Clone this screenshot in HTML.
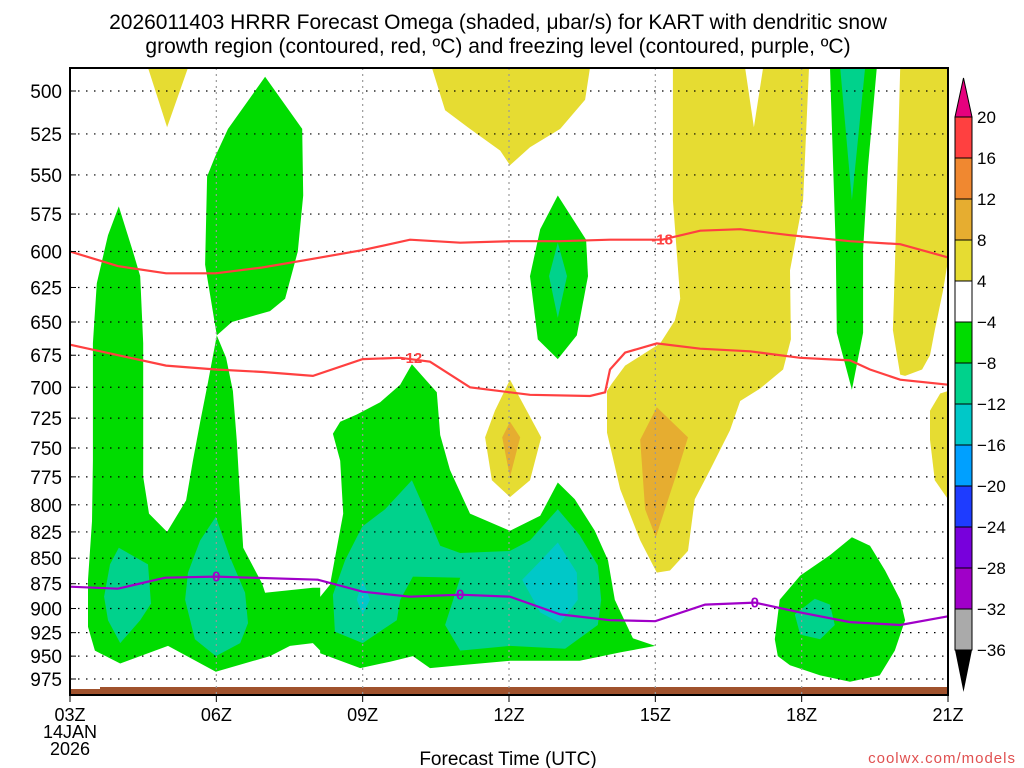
<!DOCTYPE html>
<html><head><meta charset="utf-8">
<style>
html,body{margin:0;padding:0;background:#fff;}
svg{display:block;font-family:"Liberation Sans",sans-serif;}
</style></head>
<body>
<svg id="chart" width="1024" height="768" viewBox="0 0 1024 768" xmlns="http://www.w3.org/2000/svg">
<text x="498" y="29" text-anchor="middle" font-size="21" fill="#000">2026011403 HRRR Forecast Omega (shaded, μbar/s) for KART with dendritic snow</text>
<text x="498" y="53" text-anchor="middle" font-size="21" fill="#000">growth region (contoured, red, ºC) and freezing level (contoured, purple, ºC)</text>
<g id="fills"></g>
<g id="grid"></g>
<g id="lines"></g>
<g id="axes"></g>
<g id="cbar"></g>
<text x="508" y="765" text-anchor="middle" font-size="19" fill="#000">Forecast Time (UTC)</text>
<text x="1016" y="763" text-anchor="end" font-size="15" fill="#e05050" letter-spacing="1">coolwx.com/models</text>
</svg>
<script>
const NS="http://www.w3.org/2000/svg";
const xTicks=[3,6,9,12,15,18,21];
const xTickLabels=["03Z","06Z","09Z","12Z","15Z","18Z","21Z"];
const pTicks=[500,525,550,575,600,625,650,675,700,725,750,775,800,825,850,875,900,925,950,975];
const cbarLabels=["20","16","12","8","4","-4","-8","-12","-16","-20","-24","-28","-32","-36"];
const cbarColors=["#ff4040","#f08830","#e6ad30","#e6dc32","#ffffff","#00dc00","#00d28c","#00c8c8","#00a0ff","#1e3cff","#7800dc","#a000c8","#aaaaaa"];
// shaded regions: [hour, hPa]
const yellowTopLeft=[[4.6,487],[5.42,487],[4.99,521]];
const yellowTopMid=[[10.42,487],[13.66,487],[13.56,505],[13.05,522],[12.43,533],[12.02,544],[11.82,535],[11.2,522],[10.69,511]];
const yellowBig=[[15.36,487],[18.15,487],[18.03,566],[17.76,613],[17.78,663],[17.62,686],[17.15,701],[16.74,711],[16.53,735],[16.12,769],[15.81,795],[15.67,843],[15.3,862],[15.03,864],[14.69,833],[14.28,786],[14.01,737],[14.01,703],[14.11,697],[14.38,683],[15.1,666],[15.4,649],[15.51,633],[15.36,566]];
const whiteNotch=[[16.84,487],[17.21,487],[17.02,521]];
const orangeBig=[[15.03,716],[15.67,741],[15.46,769],[15.01,830],[14.79,804],[14.69,743]];
const yellowMid=[[12.02,694],[12.66,741],[12.43,778],[12.02,793],[11.65,778],[11.51,741],[11.71,719]];
const orangeMid=[[12.02,728],[12.23,741],[12.02,775],[11.86,741]];
const yellowRightTop=[[20.02,487],[21,487],[21,606],[20.9,627],[20.73,656],[20.63,675],[20.47,686],[20.12,691],[20.02,690],[19.87,656],[19.91,613]];
const yellowRightLow=[[21,703],[20.84,705],[20.63,719],[20.63,743],[20.73,778],[21,795]];
const greenSpike=[[18.58,487],[19.54,487],[19.36,545],[19.26,599],[19.26,658],[19.03,702],[18.72,658],[18.7,599]];
const tealSpike=[[18.79,487],[19.3,487],[19.03,566]];
const green13=[[13.0,563],[13.58,592],[13.62,617],[13.39,660],[13.0,678],[12.59,663],[12.43,617],[12.64,585]];
const teal13=[[13.0,594],[13.19,617],[13.0,647],[12.82,617]];
const greenUpper06=[[7.0,492],[7.76,522],[7.78,563],[7.67,600],[7.41,633],[7.1,642],[6.32,650],[6.01,660],[5.77,609],[5.81,551],[5.97,539],[6.24,522]];
const greenLowLeft=[[4.0,570],[4.29,600],[4.44,617],[4.5,666],[4.5,775],[4.62,808],[4.99,825],[5.38,796],[5.52,761],[5.67,728],[5.83,696],[6.01,660],[6.2,677],[6.34,703],[6.42,744],[6.49,796],[6.55,840],[6.94,875],[7.0,884],[7.98,879],[8.13,879],[8.13,944],[7.98,936],[7.51,939],[7.1,950],[5.99,967],[5.01,939],[4.03,958],[3.51,944],[3.37,919],[3.37,871],[3.45,815],[3.47,761],[3.47,666],[3.55,622],[3.78,589]];
const greenMid=[[10.01,682],[10.52,704],[10.59,739],[10.79,769],[11.2,808],[12.02,824],[12.64,810],[13.0,780],[13.35,795],[13.76,824],[14.03,852],[14.17,891],[14.54,931],[15.0,939],[14.28,946],[13.45,955],[12.02,955],[11.0,960],[10.38,963],[10.03,950],[9.56,956],[8.95,963],[8.13,947],[8.08,891],[8.33,876],[8.6,808],[8.54,761],[8.39,738],[8.54,728],[8.88,722],[9.36,712],[9.77,698]];
const teal04=[[4.0,840],[4.6,856],[4.66,895],[4.44,912],[4.03,936],[3.78,912],[3.7,888],[3.82,856]];
const teal06=[[5.99,811],[6.28,849],[6.59,884],[6.65,915],[6.49,936],[5.99,950],[5.56,932],[5.36,891],[5.42,864],[5.67,833]];
const tealMid=[[10.01,778],[10.38,815],[10.59,838],[11.0,845],[12.02,843],[12.43,833],[13.0,804],[13.45,828],[13.82,857],[13.89,891],[13.82,917],[13.15,942],[12.02,939],[11.0,944],[10.69,917],[11.0,869],[10.03,868],[9.77,891],[9.7,912],[9.0,936],[8.43,924],[8.39,886],[8.64,852],[8.99,820],[9.46,804]];
const cyan12=[[13.0,835],[13.39,864],[13.41,891],[13.05,915],[12.64,904],[12.27,871],[12.64,853]];
const cyan09=[[9.0,871],[9.15,891],[9.0,906],[8.88,891]];
const greenRight=[[17.45,932],[17.55,891],[17.97,867],[18.58,847],[19.03,830],[19.4,838],[19.71,862],[20.02,891],[20.12,912],[19.91,944],[19.6,971],[18.99,978],[18.38,971],[17.76,960],[17.51,950]];
const tealRight=[[17.86,906],[18.27,890],[18.58,896],[18.68,917],[18.38,932],[17.97,927]];
// contour lines
const line0Hours=[3,3.98,4.95,5.99,8.08,9.0,9.97,11.0,12.02,13.05,14.07,15.0,16.02,17.04,17.97,18.99,20.02,21];
const line0P=[878,880,869,868,871,883,888,886,888,906,912,913,896,894,904,914,917,908];
const lineM12Hours=[3,4.97,5.99,6.96,7.98,9.0,9.77,10.38,11.2,12.43,13.66,13.97,14.07,14.38,15.03,15.92,16.94,17.97,18.99,19.4,20.02,21];
const lineM12P=[667,683,686,688,691,678,677,680,700,706,707,704,686,673,666,670,672,677,679,686,694,698];
const lineM18Hours=[3,3.98,4.97,5.99,6.94,7.98,9,9.97,11,12.02,13.05,14.07,15.14,15.92,16.74,17.76,18.99,20.02,21];
const lineM18P=[600,610,615,615,611,605,599,592,594,593,593,592,592,586,585,589,593,595,604];

const X0=70,X1=948,Y0=68,Y1=695;
const xs=h=>X0+(h-3)*(X1-X0)/18;
const ys=p=>91+Math.log(p/500)*(679-91)/Math.log(975/500);
const fills=document.getElementById('fills');
function poly(pts,color,name){
  const e=document.createElementNS(NS,'polygon');
  e.setAttribute('points',pts.map(q=>xs(q[0]).toFixed(1)+','+ys(q[1]).toFixed(1)).join(' '));
  e.setAttribute('fill',color);
  
  
  fills.appendChild(e);
}
const Y="#e6dc32",O="#e6ad30",G="#00dc00",T="#00d28c",C="#00c8c8";
poly(yellowTopLeft,Y,'yellow-region');poly(yellowTopMid,Y,'yellow-region');poly(yellowBig,Y,'yellow-region');
poly(whiteNotch,"#fff",'white-notch');poly(orangeBig,O,'orange-region');
poly(yellowMid,Y,'yellow-region');poly(orangeMid,O,'orange-region');
poly(yellowRightTop,Y,'yellow-region');poly(yellowRightLow,Y,'yellow-region');
poly(greenSpike,G,'green-region');poly(tealSpike,T,'teal-region');
poly(green13,G,'green-region');poly(teal13,T,'teal-region');
poly(greenUpper06,G,'green-region');poly(greenLowLeft,G,'green-region');poly(greenMid,G,'green-region');
poly(teal04,T,'teal-region');poly(teal06,T,'teal-region');poly(tealMid,T,'teal-region');
poly(cyan12,C,'cyan-region');poly(cyan09,C,'cyan-region');
poly(greenRight,G,'green-region');poly(tealRight,T,'teal-region');
// terrain
const terr=document.createElementNS(NS,'path');
terr.setAttribute('d',`M${X0},689 L100,689 L100,687 L${X1},687 L${X1},${Y1} L${X0},${Y1}Z`);
terr.setAttribute('fill','#a0522d');


fills.appendChild(terr);

const grid=document.getElementById('grid');
pTicks.forEach(p=>{
  const l=document.createElementNS(NS,'line');
  l.setAttribute('x1',X0);l.setAttribute('x2',X1);l.setAttribute('y1',ys(p));l.setAttribute('y2',ys(p));
  l.setAttribute('stroke','#000');l.setAttribute('stroke-width','1.2');l.setAttribute('stroke-dasharray','1.5 6.5');
  
  
  grid.appendChild(l);
});
xTicks.slice(1,-1).forEach(h=>{
  const l=document.createElementNS(NS,'line');
  l.setAttribute('x1',xs(h));l.setAttribute('x2',xs(h));l.setAttribute('y1',Y0);l.setAttribute('y2',Y1);
  l.setAttribute('stroke','#999');l.setAttribute('stroke-width','1.2');l.setAttribute('stroke-dasharray','2 4');
  
  
  grid.appendChild(l);
});

const lines=document.getElementById('lines');
function pl(hs,ps,color,name){
  const e=document.createElementNS(NS,'polyline');
  e.setAttribute('points',hs.map((h,i)=>xs(h).toFixed(1)+','+ys(ps[i]).toFixed(1)).join(' '));
  e.setAttribute('fill','none');e.setAttribute('stroke',color);e.setAttribute('stroke-width','2.2');
  
  
  lines.appendChild(e);
}
function lbl(h,p,txt,color){
  const t=document.createElementNS(NS,'text');
  t.setAttribute('x',xs(h));t.setAttribute('y',ys(p)+5);t.setAttribute('text-anchor','middle');
  t.setAttribute('font-size','15');t.setAttribute('font-weight','bold');t.setAttribute('fill',color);
  t.textContent=txt;
  
  
  lines.appendChild(t);
}
pl(lineM18Hours,lineM18P,'#ff4040','contour-minus18');
pl(lineM12Hours,lineM12P,'#ff4040','contour-minus12');
pl(line0Hours,line0P,'#a000c8','freezing-level-0');
lbl(15.14,592,'-18','#ff4040');lbl(10.0,677,'-12','#ff4040');
lbl(6.0,868,'0','#a000c8');lbl(11.0,886,'0','#a000c8');lbl(17.04,894,'0','#a000c8');

const axes=document.getElementById('axes');
const fr=document.createElementNS(NS,'rect');
fr.setAttribute('x',X0);fr.setAttribute('y',Y0);fr.setAttribute('width',X1-X0);fr.setAttribute('height',Y1-Y0);
fr.setAttribute('fill','none');fr.setAttribute('stroke','#000');fr.setAttribute('stroke-width','2');


axes.appendChild(fr);
pTicks.forEach(p=>{
  const t=document.createElementNS(NS,'text');
  t.setAttribute('x',62);t.setAttribute('y',ys(p)+7);t.setAttribute('text-anchor','end');
  t.setAttribute('font-size','19');t.textContent=p;
  
  
  axes.appendChild(t);
  const k=document.createElementNS(NS,'line');
  k.setAttribute('x1',X0);k.setAttribute('x2',X0+6);k.setAttribute('y1',ys(p));k.setAttribute('y2',ys(p));k.setAttribute('stroke','#000');
  
  
  axes.appendChild(k);
});
xTicks.forEach((h,i)=>{
  const t=document.createElementNS(NS,'text');
  t.setAttribute('x',xs(h));t.setAttribute('y',721);t.setAttribute('text-anchor','middle');
  t.setAttribute('font-size','18');t.textContent=xTickLabels[i];
  
  
  axes.appendChild(t);
  const k=document.createElementNS(NS,'line');
  k.setAttribute('x1',xs(h));k.setAttribute('x2',xs(h));k.setAttribute('y1',Y1);k.setAttribute('y2',Y1+7);k.setAttribute('stroke','#000');
  
  
  axes.appendChild(k);
});
[["14JAN",738],["2026",755]].forEach(a=>{
  const t=document.createElementNS(NS,'text');
  t.setAttribute('x',xs(3));t.setAttribute('y',a[1]);t.setAttribute('text-anchor','middle');
  t.setAttribute('font-size','18');t.textContent=a[0];
  
  
  axes.appendChild(t);
});

const cb=document.getElementById('cbar');
const CX=955,CW=17,CT=117,CS=41;
const tri1=document.createElementNS(NS,'polygon');
tri1.setAttribute('points',`${CX},${CT} ${CX+CW},${CT} ${CX+CW/2},78`);
tri1.setAttribute('fill','#e6007e');tri1.setAttribute('stroke','#000');


cb.appendChild(tri1);
cbarColors.forEach((c,i)=>{
  const r=document.createElementNS(NS,'rect');
  r.setAttribute('x',CX);r.setAttribute('y',CT+i*CS);r.setAttribute('width',CW);r.setAttribute('height',CS);
  r.setAttribute('fill',c);r.setAttribute('stroke','#000');r.setAttribute('stroke-width','1');
  
  
  cb.appendChild(r);
});
const yb=CT+cbarColors.length*CS;
const tri2=document.createElementNS(NS,'polygon');
tri2.setAttribute('points',`${CX},${yb} ${CX+CW},${yb} ${CX+CW/2},${yb+42}`);
tri2.setAttribute('fill','#000');


cb.appendChild(tri2);
cbarLabels.forEach((s,i)=>{
  const t=document.createElementNS(NS,'text');
  t.setAttribute('x',977);t.setAttribute('y',CT+i*CS+6);t.setAttribute('font-size','17');
  t.textContent=s.replace('-','−');
  
  
  cb.appendChild(t);
});
</script>
</body></html>
